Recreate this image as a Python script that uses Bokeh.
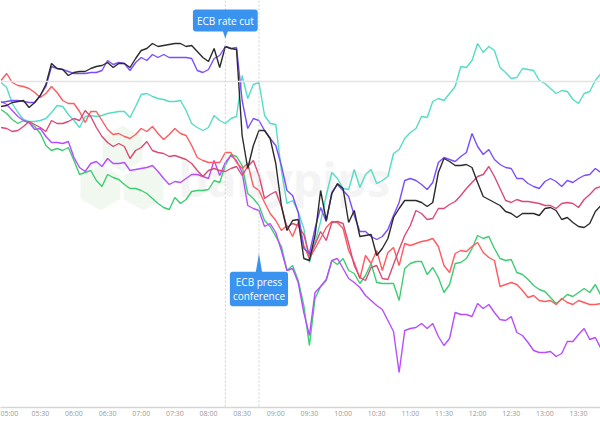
import numpy as np
from bokeh.plotting import figure
from bokeh.models import Span, Label, FixedTicker, PolyAnnotation
from bokeh.embed import file_html
from bokeh.resources import INLINE

# sampling: 5-minute bars from 04:55 to 13:50
start_min = 295
step_min = 5

# change vs. reference level (arbitrary units), one value per 5-minute bar
black = [-25, -24, -21, -20, -19, -26, -21, -14, -3, 18, 13, 12, 6, 9, 10, 10, 13, 15, 16, 19,
         14, 18, 18, 14, 23, 31, 33, 38, 35, 36, 37, 38, 38, 35, 36, 30, 24, 20, 33, 14,
         35, 33, 32, -54, -87, -64, -49, -49, -57, -82, -124, -149, -139, -138, -177, -179, -154, -109, -139, -112,
         -102, -107, -141, -129, -155, -154, -153, -174, -167, -157, -136, -127, -119, -119, -119, -121, -125, -121, -91, -77,
         -80, -84, -84, -83, -86, -101, -115, -118, -121, -124, -130, -132, -136, -132, -132, -132, -134, -127, -126, -129,
         -138, -136, -141, -145, -146, -142, -130, -124]
purple = [-21, -20, -19, -19, -20, -21, -21, -14, -5, 15, 13, 12, 10, 8, 8, 8, 9, 9, 11, 21,
          17, 19, 18, 11, 19, 24, 21, 27, 24, 27, 24, 24, 24, 24, 23, 11, 9, 12, 23, 26,
          35, 33, 34, -19, -47, -37, -39, -49, -57, -64, -84, -109, -114, -131, -167, -172, -147, -126, -140, -111,
          -103, -109, -115, -134, -150, -150, -155, -158, -155, -148, -134, -121, -99, -97, -99, -103, -108, -101, -81, -76,
          -78, -80, -75, -71, -52, -65, -73, -68, -78, -83, -86, -87, -97, -97, -102, -105, -107, -100, -97, -100,
          -105, -99, -101, -97, -94, -93, -87, -91]
turquoise = [-1, -6, -22, -31, -38, -40, -40, -39, -37, -31, -24, -25, -33, -39, -46, -35, -34, -35, -34, -32,
             -31, -30, -30, -36, -25, -13, -12, -15, -17, -18, -20, -20, -19, -29, -42, -46, -49, -46, -34, -39,
             -42, -37, -35, 6, -17, -3, -1, -34, -42, -43, -89, -122, -119, -130, -147, -181, -161, -140, -114, -91,
             -97, -107, -108, -88, -106, -93, -88, -102, -99, -95, -72, -68, -57, -51, -47, -35, -36, -20, -17, -19,
             -12, -5, 15, 14, 21, 38, 29, 35, 31, 14, 9, 3, 4, 13, 12, 11, 1, -2, -7, -12,
             -9, -10, -18, -22, -12, -10, 1, 8]
red = [1, 8, -1, -4, -5, -7, -11, -16, -12, -5, -11, -19, -22, -22, -30, -41, -30, -30, -39, -48,
       -53, -52, -55, -57, -53, -47, -50, -45, -52, -58, -53, -47, -52, -54, -64, -76, -79, -81, -81, -81,
       -71, -71, -81, -87, -82, -105, -109, -121, -132, -139, -149, -144, -155, -141, -164, -177, -167, -157, -146, -140,
       -141, -147, -169, -181, -197, -174, -182, -169, -189, -171, -166, -184, -162, -164, -162, -160, -159, -157, -165, -184,
       -191, -172, -169, -170, -165, -161, -171, -176, -179, -205, -203, -201, -203, -209, -216, -214, -219, -220, -219, -223,
       -217, -221, -223, -219, -221, -223, -223, -222]
crimson = [-46, -47, -50, -49, -45, -40, -43, -46, -50, -39, -42, -42, -40, -37, -39, -29, -35, -46, -55, -61,
           -65, -62, -65, -77, -69, -66, -60, -69, -71, -72, -75, -74, -76, -78, -82, -89, -95, -89, -87, -89,
           -90, -87, -85, -94, -85, -79, -94, -117, -113, -110, -125, -146, -142, -144, -153, -174, -163, -150, -159, -141,
           -140, -142, -162, -184, -196, -199, -186, -184, -197, -198, -183, -168, -154, -144, -129, -132, -138, -137, -127, -127,
           -123, -120, -114, -107, -101, -95, -93, -85, -95, -107, -119, -121, -118, -120, -120, -121, -122, -124, -124, -127,
           -122, -121, -122, -126, -118, -113, -107, -105]
green = [-28, -32, -38, -42, -39, -41, -45, -52, -64, -69, -67, -69, -66, -79, -93, -91, -89, -99, -105, -93,
         -96, -98, -103, -107, -107, -109, -112, -117, -122, -126, -128, -116, -122, -118, -110, -109, -109, -108, -99, -101,
         -84, -73, -75, -84, -112, -117, -124, -139, -145, -155, -165, -189, -184, -199, -224, -264, -217, -205, -199, -179,
         -183, -177, -189, -192, -202, -194, -182, -201, -202, -202, -202, -219, -187, -182, -180, -180, -193, -186, -196, -211,
         -203, -182, -181, -177, -167, -154, -157, -155, -167, -177, -179, -178, -191, -193, -198, -204, -208, -210, -216, -222,
         -218, -213, -215, -211, -207, -211, -203, -214]
violet = [-20, -23, -29, -35, -39, -41, -48, -47, -55, -61, -61, -62, -60, -76, -86, -90, -82, -80, -85, -77,
          -82, -82, -81, -89, -88, -87, -86, -84, -90, -97, -103, -100, -101, -97, -93, -93, -95, -97, -79, -94,
          -81, -74, -79, -91, -124, -127, -129, -145, -142, -151, -169, -189, -187, -201, -231, -254, -211, -205, -198, -179,
          -177, -187, -197, -201, -206, -214, -219, -224, -228, -239, -250, -291, -249, -247, -246, -242, -247, -242, -255, -264,
          -257, -231, -233, -233, -235, -222, -227, -223, -231, -238, -239, -235, -251, -254, -261, -269, -271, -271, -270, -275,
          -272, -260, -260, -253, -247, -258, -256, -267]

tick_labels = ["05:00", "05:30", "06:00", "06:30", "07:00", "07:30", "08:00", "08:30", "09:00",
               "09:30", "10:00", "10:30", "11:00", "11:30", "12:00", "12:30", "13:00", "13:30"]

events = ["ECB rate cut", "ECB press\nconference"]
event_times = ["08:15", "08:45"]


def to_min(s):
    h, m = s.split(":")
    return int(h) * 60 + int(m)


n = len(black)
t = [start_min + step_min * k for k in range(n)]

p = figure(width=600, height=432, output_backend="svg", toolbar_location=None,
           x_range=(294.5, 829.6), y_range=(-326, 81),
           min_border_left=0, min_border_right=0, min_border_top=0, min_border_bottom=25)
p.outline_line_color = None
p.grid.grid_line_color = None
p.yaxis.visible = False
p.background_fill_color = "white"
p.border_fill_color = "white"

# faint watermark
p.scatter([403.3, 383.7, 422.0], [-67, -106, -106], marker="hex", size=46, angle=np.pi / 6,
          fill_color="#f1f8ef", line_color=None)
wm = Label(x=453, y=-97, text="babypips", text_font="Open Sans", text_font_size="47px",
           text_font_style="bold", text_color="#f4f4f4", text_baseline="alphabetic", level="underlay")
p.add_layout(wm)

# reference line and event lines
p.add_layout(Span(location=0, dimension="width", line_color="#e3e3e3", line_width=1.5))
for et in event_times:
    p.add_layout(Span(location=to_min(et), dimension="height", line_color="#cfcfcf",
                      line_width=1, line_dash="2 2"))

series = [(turquoise, "#55dcc5"), (green, "#3dcc72"), (violet, "#b84cff"), (red, "#ff5a5f"),
          (crimson, "#d94a76"), (purple, "#7b4dff"), (black, "#2b2b2b")]
for ys, c in series:
    p.line(t, ys, line_color=c, line_width=1.4)

# callouts
blue = "#3b93f0"
t1 = to_min(event_times[0])
t2 = to_min(event_times[1])
l1 = Label(x=t1, y=61, text=events[0], text_font="Open Sans", text_font_size="10px",
           text_color="white", text_align="center", text_baseline="middle",
           background_fill_color=blue, padding=4, border_radius=3)
p.add_layout(l1)
p.add_layout(PolyAnnotation(xs=[t1 - 2.7, t1 + 2.7, t1], ys=[52, 52, 43], fill_color=blue,
                            fill_alpha=1, line_color=None))
l2 = Label(x=t2, y=-207.5, text=events[1], text_font="Open Sans", text_font_size="10px",
           text_color="white", text_align="center", text_baseline="middle", text_line_height=1.05,
           background_fill_color=blue, padding=3, border_radius=3)
p.add_layout(l2)
p.add_layout(PolyAnnotation(xs=[t2 - 3.5, t2 + 3.5, t2], ys=[-195, -195, -172], fill_color=blue,
                            fill_alpha=1, line_color=None))

# x axis
tick_vals = [to_min(s) for s in tick_labels]
p.xaxis.ticker = FixedTicker(ticks=tick_vals)
p.xaxis.major_label_overrides = {v: s for v, s in zip(tick_vals, tick_labels)}
p.xaxis.major_tick_line_color = None
p.xaxis.minor_tick_line_color = None
p.xaxis.major_tick_out = 0
p.xaxis.major_tick_in = 0
p.xaxis.axis_line_color = "#d6d6d6"
p.xaxis.axis_line_width = 1.5
p.xaxis.major_label_text_font = "Open Sans"
p.xaxis.major_label_text_font_size = "7px"
p.xaxis.major_label_text_color = "#999999"
p.xaxis.major_label_standoff = 1

open("out.html", "w").write(file_html(p, INLINE))
